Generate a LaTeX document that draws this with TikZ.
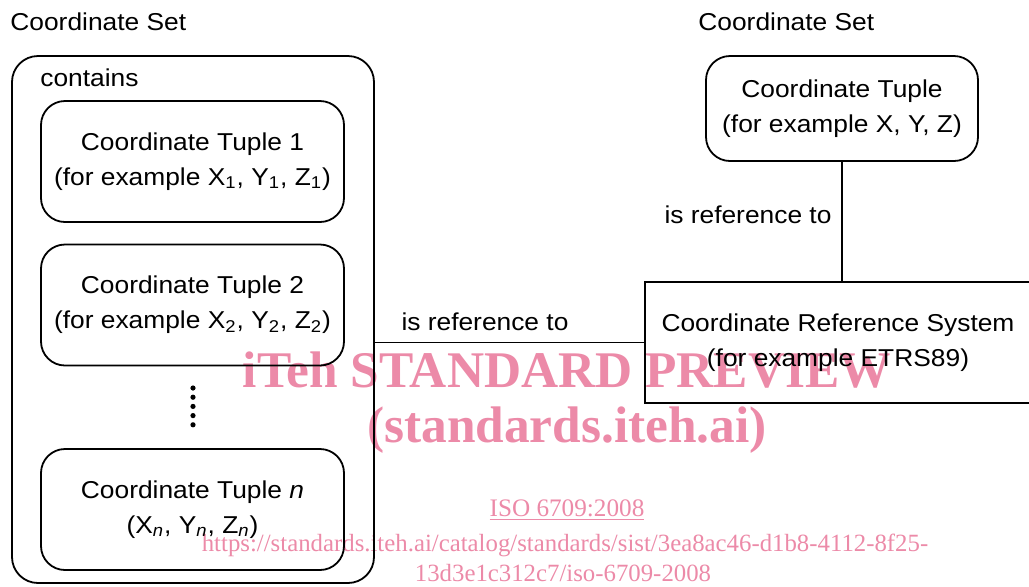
\documentclass[tikz,border=0pt]{standalone}
\usepackage{fontspec}
\setmainfont{Liberation Sans}[FakeStretch=1.08]
\newfontfamily\wmfont{Liberation Serif}
\definecolor{wmpink}{RGB}{236,138,168}

\tikzset{
    lbl/.style={font=\fontsize{12.2}{14}\selectfont, inner sep=0pt},
    setbox/.style={draw, line width=0.9pt, rounded corners=13pt,
        minimum width=181pt, minimum height=263.5pt},
    tuplebox/.style={draw, line width=0.9pt, rounded corners=12pt, align=center,
        minimum width=151.5pt, minimum height=60.5pt,
        font=\fontsize{12.2}{17.5}\selectfont},
    crsbox/.style={draw, line width=0.9pt, align=center,
        minimum width=193pt, minimum height=60.5pt,
        font=\fontsize{12.2}{17.5}\selectfont},
    link/.style={line width=0.9pt},
    wm/.style={text=wmpink, inner sep=0pt}
}

\begin{document}
\begin{tikzpicture}[x=0.5pt, y=-0.5pt]

    % Page frame
    \useasboundingbox (0,0) rectangle (1029,586);

    % Watermark
    \node[wm, font=\wmfont\bfseries\fontsize{25.7}{28}\selectfont] (wmtitle) at (567,370) {iTeh STANDARD PREVIEW};
    \node[wm, font=\wmfont\bfseries\fontsize{25.7}{28}\selectfont] (wmsite) at (567,430) {(standards.iteh.ai)};
    \node[wm, font=\wmfont\fontsize{12.6}{14}\selectfont] (wmiso) at (567,510) {\underline{ISO 6709:2008}};
    \node[wm, font=\wmfont\fontsize{12.4}{14}\selectfont] (wmurl) at (565,545) {https://standards.iteh.ai/catalog/standards/sist/3ea8ac46-d1b8-4112-8f25-};
    \node[wm, font=\wmfont\fontsize{12.4}{14}\selectfont] (wmurlb) at (563,573) {13d3e1c312c7/iso-6709-2008};

    % Left: the coordinate set
    \node[lbl, anchor=west] (setlbl) at (10,22) {Coordinate Set};
    \node[setbox] (set) at (193,319.5) {};
    \node[lbl, anchor=west] (contains) at (40,78) {contains};

    \node[tuplebox] (tupA) at (192.5,161.5) {Coordinate Tuple 1\\(for example X\textsubscript{1}, Y\textsubscript{1}, Z\textsubscript{1})};
    \node[tuplebox] (tupB) at (192.5,305) {Coordinate Tuple 2\\(for example X\textsubscript{2}, Y\textsubscript{2}, Z\textsubscript{2})};
    \node[tuplebox] (tupN) at (192.5,509.5) {Coordinate Tuple \textit{n}\\(X\textsubscript{\textit{n}}, Y\textsubscript{\textit{n}}, Z\textsubscript{\textit{n}})};

    % Dots between tuple 2 and tuple n
    \foreach \k in {0,...,4}
        \fill (193,388+9.2*\k) circle (1.3pt);

    % Right: the single tuple
    \node[lbl, anchor=west] (setlblR) at (698,22) {Coordinate Set};
    \node[tuplebox, minimum width=136pt, minimum height=52.5pt] (tupR) at (842,108.5) {Coordinate Tuple\\(for example X, Y, Z)};

    % Reference system
    \node[crsbox] (crs) at (838,342.5) {Coordinate Reference System\\(for example ETRS89)};

    % Links
    \draw[link] (crs.west) -- (crs.west -| set.east);
    \node[lbl] (refA) at (485,322) {is reference to};
    \draw[link] (tupR.south) -- (tupR.south |- crs.north);
    \node[lbl] (refB) at (748,215) {is reference to};

\end{tikzpicture}
\end{document}
